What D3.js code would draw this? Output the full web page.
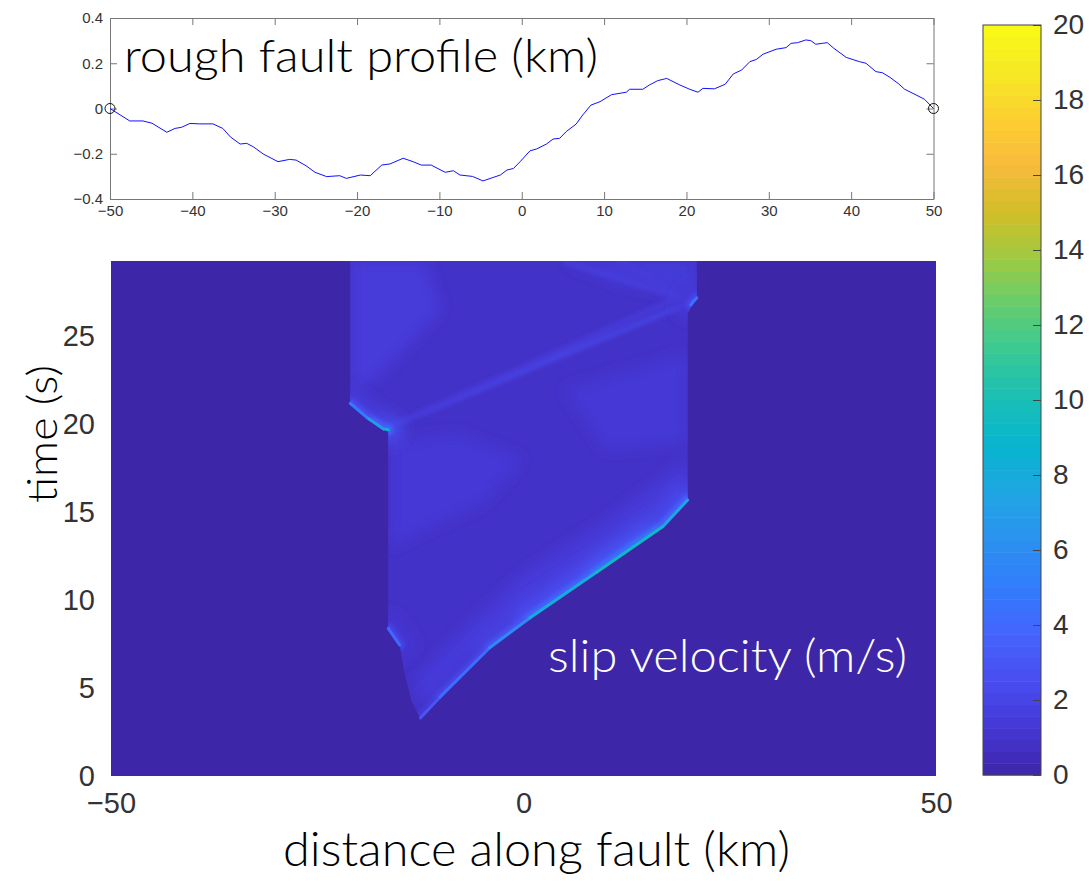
<!DOCTYPE html>
<html lang="en">
<head>
<meta charset="utf-8">
<title>Rough fault rupture</title>
<script src="https://cdn.jsdelivr.net/npm/d3@7"></script>
<style>
  body { margin: 0; background: #fff; }
  svg { display: block; }
  .tick text { fill: #333; }
  .label { font-family: Lato, sans-serif; font-weight: 300; }
</style>
</head>
<body>
<div id="chart"></div>
<script>
// fault profile (km)
var profileX = [-50, -47.6, -46.0, -44.9, -43.1, -42.1, -41.3, -40.3, -39.1, -37.5, -36.3, -35.4, -34.2, -33.4, -32.6,
  -31.4, -29.6, -28.2, -27.4, -26.2, -25.1, -23.7, -22.1, -21.3, -19.6, -18.4, -17.0, -16.0, -14.4, -13.2,
  -12.2, -11.0, -9.3, -8.3, -7.5, -6.0, -4.7, -2.6, -1.8, -1.0, -0.2, 1.0, 1.8, 3.0, 3.8,
  4.6, 5.4, 6.6, 7.4, 8.4, 9.5, 10.9, 12.7, 13.1, 14.7, 15.5, 16.5, 17.6, 19.2, 20.4,
  21.4, 22.0, 23.4, 24.7, 25.7, 26.7, 27.7, 28.5, 29.3, 30.9, 32.1, 32.7, 33.5, 34.5, 35.1,
  35.7, 36.5, 37.1, 37.9, 39.4, 41.0, 41.8, 43.0, 43.8, 44.7, 45.7, 46.5, 47.5, 48.9, 50];
var profileY = [0, -0.055, -0.055, -0.065, -0.105, -0.088, -0.083, -0.066, -0.068, -0.068, -0.088, -0.125, -0.157, -0.154, -0.169,
  -0.201, -0.235, -0.225, -0.228, -0.253, -0.282, -0.301, -0.297, -0.309, -0.294, -0.297, -0.250, -0.245, -0.220, -0.235,
  -0.250, -0.250, -0.282, -0.275, -0.294, -0.300, -0.320, -0.294, -0.272, -0.265, -0.235, -0.187, -0.179, -0.157, -0.135,
  -0.132, -0.102, -0.069, -0.029, 0.015, 0.030, 0.061, 0.072, 0.085, 0.085, 0.104, 0.123, 0.133, 0.104, 0.085,
  0.072, 0.089, 0.087, 0.107, 0.153, 0.170, 0.207, 0.217, 0.240, 0.262, 0.269, 0.288, 0.291, 0.303, 0.300,
  0.284, 0.288, 0.291, 0.266, 0.226, 0.207, 0.200, 0.163, 0.158, 0.138, 0.111, 0.085, 0.067, 0.041, 0];

// tick values
var profXTicks = [-50, -40, -30, -20, -10, 0, 10, 20, 30, 40, 50];
var profYTicks = [-0.4, -0.2, 0, 0.2, 0.4];
var distTicks = [-50, 0, 50];
var timeTicks = [0, 5, 10, 15, 20, 25];
var velTicks = [0, 2, 4, 6, 8, 10, 12, 14, 16, 18, 20];

// ruptured area of the x-t plane, [km, s]
var rupture = [[-12.5, 3.3], [-10.1, 4.5], [-4.1, 7.3], [0.8, 9.0], [8.9, 11.6], [16.9, 14.2], [19.9, 15.7],
  [19.9, 26.3], [20.6, 27.0], [21.0, 27.2], [21.0, 29.3], [-21.0, 29.3], [-21.0, 21.2], [-18.5, 20.3],
  [-17.0, 19.7], [-16.4, 19.7], [-16.4, 8.4], [-15.0, 7.5], [-14.5, 6.0], [-13.6, 4.3]];
var ruptureVel = 0.9;

// slightly faster patches inside the rupture: [x, t] outlines and their slip velocity
var patches = [
  {v: 1.5, pts: [[-21, 29.3], [-12, 29.3], [-10, 26.5], [-14, 24.5], [-18, 22.5], [-21, 22]]},
  {v: 1.5, pts: [[-12.5, 3.3], [19.9, 15.7], [19.9, 18.0], [10, 14.5], [0, 11.5], [-8, 8], [-13, 5.5]]},
  {v: 1.3, pts: [[-16.2, 19.0], [-8, 19.5], [0, 18], [-5, 15.5], [-12, 14], [-16.2, 13]]},
  {v: 1.3, pts: [[5, 22], [19.8, 24], [19.8, 19], [10, 18.5]]},
  {v: 1.4, pts: [[5, 29.3], [21, 29.3], [21, 27.2], [12, 28]]}
];

// rupture fronts: [x, t, slip velocity]
var rightFront = [[-12.5, 3.3, 2.5], [-10.1, 4.5, 3.5], [-4.1, 7.3, 5], [0.8, 9.0, 6.5], [8.9, 11.6, 9.5], [16.9, 14.2, 9], [19.9, 15.7, 6]];
var leftFrontUpper = [[-16.4, 19.7, 9], [-17.0, 19.75, 8], [-19, 20.4, 6], [-21.0, 21.2, 4]];
var leftFrontLower = [[-16.4, 8.4, 5], [-15.0, 7.45, 3]];
var stopSpot = [[20.3, 26.8, 3], [20.6, 27.0, 6], [21.0, 27.2, 3]];

// reflected / transmitted waves: [x1, t1, x2, t2, v]
var rays = [[-16.6, 19.8, 20.5, 27.0, 1.9], [-16.6, 19.8, 20.6, 27.6, 1.5],
  [20.6, 27.0, 4.8, 29.3, 1.6], [20.6, 27.0, 11.5, 29.3, 1.5]];

// parula colormap stops (0 to 1)
var parula = ["#3e26a8", "#4537d5", "#484df0", "#4563fd", "#327cfc", "#2b91ef", "#20a5e3", "#08b5d0", "#19bfb6",
  "#37c897", "#64cd6f", "#9dc943", "#d1bf27", "#f8ba3d", "#fccf30", "#f5e924", "#f9fb15"];

var W = 1089, H = 881;
var svg = d3.select("#chart").append("svg").attr("width", W).attr("height", H);
var defs = svg.append("defs");

var vel = d3.scaleLinear()
  .domain(parula.map(function (c, i) { return i / (parula.length - 1) * 20; }))
  .range(parula)
  .clamp(true);

// ---------- top panel: fault profile ----------
var xTop = d3.scaleLinear().domain([-50, 50]).range([110, 933.5]);
var yTop = d3.scaleLinear().domain([-0.4, 0.4]).range([199, 18]);
var topG = svg.append("g");
var fmtTop = function (d) { return d === 0 ? "0" : d3.format(".1f")(d); };

topG.append("g").attr("transform", "translate(0,199)")
  .call(d3.axisBottom(xTop).tickValues(profXTicks).tickSizeInner(-7).tickSizeOuter(0).tickPadding(6));
topG.append("g").attr("transform", "translate(0,18)")
  .call(d3.axisTop(xTop).tickValues(profXTicks).tickSizeInner(-7).tickSizeOuter(0).tickFormat(""));
topG.append("g").attr("transform", "translate(110,0)")
  .call(d3.axisLeft(yTop).tickValues(profYTicks).tickSizeInner(-7).tickSizeOuter(0).tickPadding(7).tickFormat(fmtTop));
topG.append("g").attr("transform", "translate(933.5,0)")
  .call(d3.axisRight(yTop).tickValues(profYTicks).tickSizeInner(-7).tickSizeOuter(0).tickFormat(""));
topG.selectAll(".domain, .tick line").attr("stroke", "#777");
topG.selectAll(".tick text").attr("font-family", "Liberation Sans, Arial, sans-serif").attr("font-size", 15);

var line = d3.line()
  .x(function (d) { return xTop(d[0]); })
  .y(function (d) { return yTop(d[1]); });
topG.append("path")
  .datum(profileX.map(function (x, i) { return [x, profileY[i]]; }))
  .attr("d", line)
  .attr("fill", "none")
  .attr("stroke", "#1010ff")
  .attr("stroke-width", 1);

topG.selectAll("circle.end")
  .data([0, profileX.length - 1])
  .enter().append("circle")
  .attr("cx", function (i) { return xTop(profileX[i]); })
  .attr("cy", function (i) { return yTop(profileY[i]); })
  .attr("r", 5)
  .attr("fill", "none")
  .attr("stroke", "#111");

topG.append("text").attr("class", "label")
  .attr("x", 124).attr("y", 72)
  .attr("font-size", 45)
  .attr("textLength", 474).attr("lengthAdjust", "spacingAndGlyphs")
  .attr("fill", "#000")
  .text("rough fault profile (km)");

// ---------- slip velocity map ----------
var xMap = d3.scaleLinear().domain([-50, 50]).range([111, 936]);
var tMap = d3.scaleLinear().domain([0, 29.3]).range([776, 261]);
var toPts = function (arr) {
  return arr.map(function (p) { return xMap(p[0]) + "," + tMap(p[1]); }).join(" ");
};

defs.append("clipPath").attr("id", "mapClip").append("rect")
  .attr("x", xMap(-50)).attr("y", tMap(29.3))
  .attr("width", xMap(50) - xMap(-50)).attr("height", tMap(0) - tMap(29.3));
defs.append("clipPath").attr("id", "ruptClip").append("polygon").attr("points", toPts(rupture));
var blurs = [1, 2, 4, 7];
blurs.forEach(function (s) {
  defs.append("filter").attr("id", "blur" + s)
    .attr("x", "-20%").attr("y", "-20%").attr("width", "140%").attr("height", "140%")
    .append("feGaussianBlur").attr("stdDeviation", s);
});

var mapG = svg.append("g").attr("clip-path", "url(#mapClip)");
mapG.append("rect")
  .attr("x", xMap(-50)).attr("y", tMap(29.3))
  .attr("width", xMap(50) - xMap(-50)).attr("height", tMap(0) - tMap(29.3))
  .attr("fill", vel(0));

mapG.append("polygon").attr("points", toPts(rupture)).attr("fill", vel(ruptureVel));

var inner = mapG.append("g").attr("clip-path", "url(#ruptClip)");
inner.append("g").attr("filter", "url(#blur7)")
  .selectAll("polygon").data(patches).enter().append("polygon")
  .attr("points", function (d) { return toPts(d.pts); })
  .attr("fill", function (d) { return vel(d.v); });

inner.append("g").attr("filter", "url(#blur2)")
  .selectAll("line").data(rays).enter().append("line")
  .attr("x1", function (d) { return xMap(d[0]); }).attr("y1", function (d) { return tMap(d[1]); })
  .attr("x2", function (d) { return xMap(d[2]); }).attr("y2", function (d) { return tMap(d[3]); })
  .attr("stroke", function (d) { return vel(d[4]); })
  .attr("stroke-width", 5);

// glow behind each front (inside the rupture) and the sharp front itself
var fronts = [rightFront, leftFrontUpper, leftFrontLower, stopSpot];
var layers = [{w: 30, k: 0.3, blur: 7, clip: true}, {w: 10, k: 0.5, blur: 2, clip: true}, {w: 3, k: 1, blur: 0, clip: false}];
layers.forEach(function (L) {
  var host = L.clip ? inner : mapG;
  var g = host.append("g");
  if (L.blur) g.attr("filter", "url(#blur" + L.blur + ")");
  fronts.forEach(function (f) {
    g.selectAll(null).data(d3.pairs(f)).enter().append("line")
      .attr("x1", function (d) { return xMap(d[0][0]); }).attr("y1", function (d) { return tMap(d[0][1]); })
      .attr("x2", function (d) { return xMap(d[1][0]); }).attr("y2", function (d) { return tMap(d[1][1]); })
      .attr("stroke", function (d) { return vel(L.k * (d[0][2] + d[1][2]) / 2); })
      .attr("stroke-width", L.w)
      .attr("stroke-linecap", "round");
  });
});

// axes of the map (labels only)
var axG = svg.append("g");
axG.append("g").attr("transform", "translate(0,776)")
  .call(d3.axisBottom(xMap).tickValues(distTicks).tickSize(0).tickPadding(16));
axG.append("g").attr("transform", "translate(111,0)")
  .call(d3.axisLeft(tMap).tickValues(timeTicks).tickSize(0).tickPadding(16));
axG.selectAll(".domain").remove();
axG.selectAll(".tick text").attr("font-family", "Liberation Sans, Arial, sans-serif").attr("font-size", 29);

svg.append("text").attr("class", "label")
  .attr("x", 548).attr("y", 672)
  .attr("font-size", 45)
  .attr("textLength", 359).attr("lengthAdjust", "spacingAndGlyphs")
  .attr("fill", "#fff")
  .text("slip velocity (m/s)");

svg.append("text").attr("class", "label")
  .attr("transform", "translate(57,434) rotate(-90)")
  .attr("text-anchor", "middle")
  .attr("font-size", 42)
  .attr("textLength", 138).attr("lengthAdjust", "spacingAndGlyphs")
  .attr("fill", "#000")
  .text("time (s)");

svg.append("text").attr("class", "label")
  .attr("x", 283).attr("y", 866)
  .attr("font-size", 47)
  .attr("textLength", 507).attr("lengthAdjust", "spacingAndGlyphs")
  .attr("fill", "#000")
  .text("distance along fault (km)");

// ---------- colorbar ----------
var cb = d3.scaleLinear().domain([0, 20]).range([775, 25]);
var nBands = 64;
var cbG = svg.append("g");
cbG.selectAll("rect.band")
  .data(d3.range(nBands)).enter().append("rect")
  .attr("x", 983).attr("width", 58)
  .attr("y", function (i) { return cb((i + 1) / nBands * 20); })
  .attr("height", function (i) { return cb(i / nBands * 20) - cb((i + 1) / nBands * 20) + 0.5; })
  .attr("fill", function (i) { return vel((i + 0.5) / nBands * 20); });
cbG.append("rect")
  .attr("x", 983).attr("y", 25).attr("width", 58).attr("height", 750)
  .attr("fill", "none").attr("stroke", "#444");
var cbAxis = cbG.append("g").attr("transform", "translate(1041,0)")
  .call(d3.axisRight(cb).tickValues(velTicks).tickSizeInner(-8).tickSizeOuter(0).tickPadding(12));
cbAxis.select(".domain").remove();
cbAxis.selectAll(".tick line").attr("stroke", "#444");
cbAxis.selectAll(".tick text").attr("font-family", "Liberation Sans, Arial, sans-serif").attr("font-size", 28);
</script>
</body>
</html>
